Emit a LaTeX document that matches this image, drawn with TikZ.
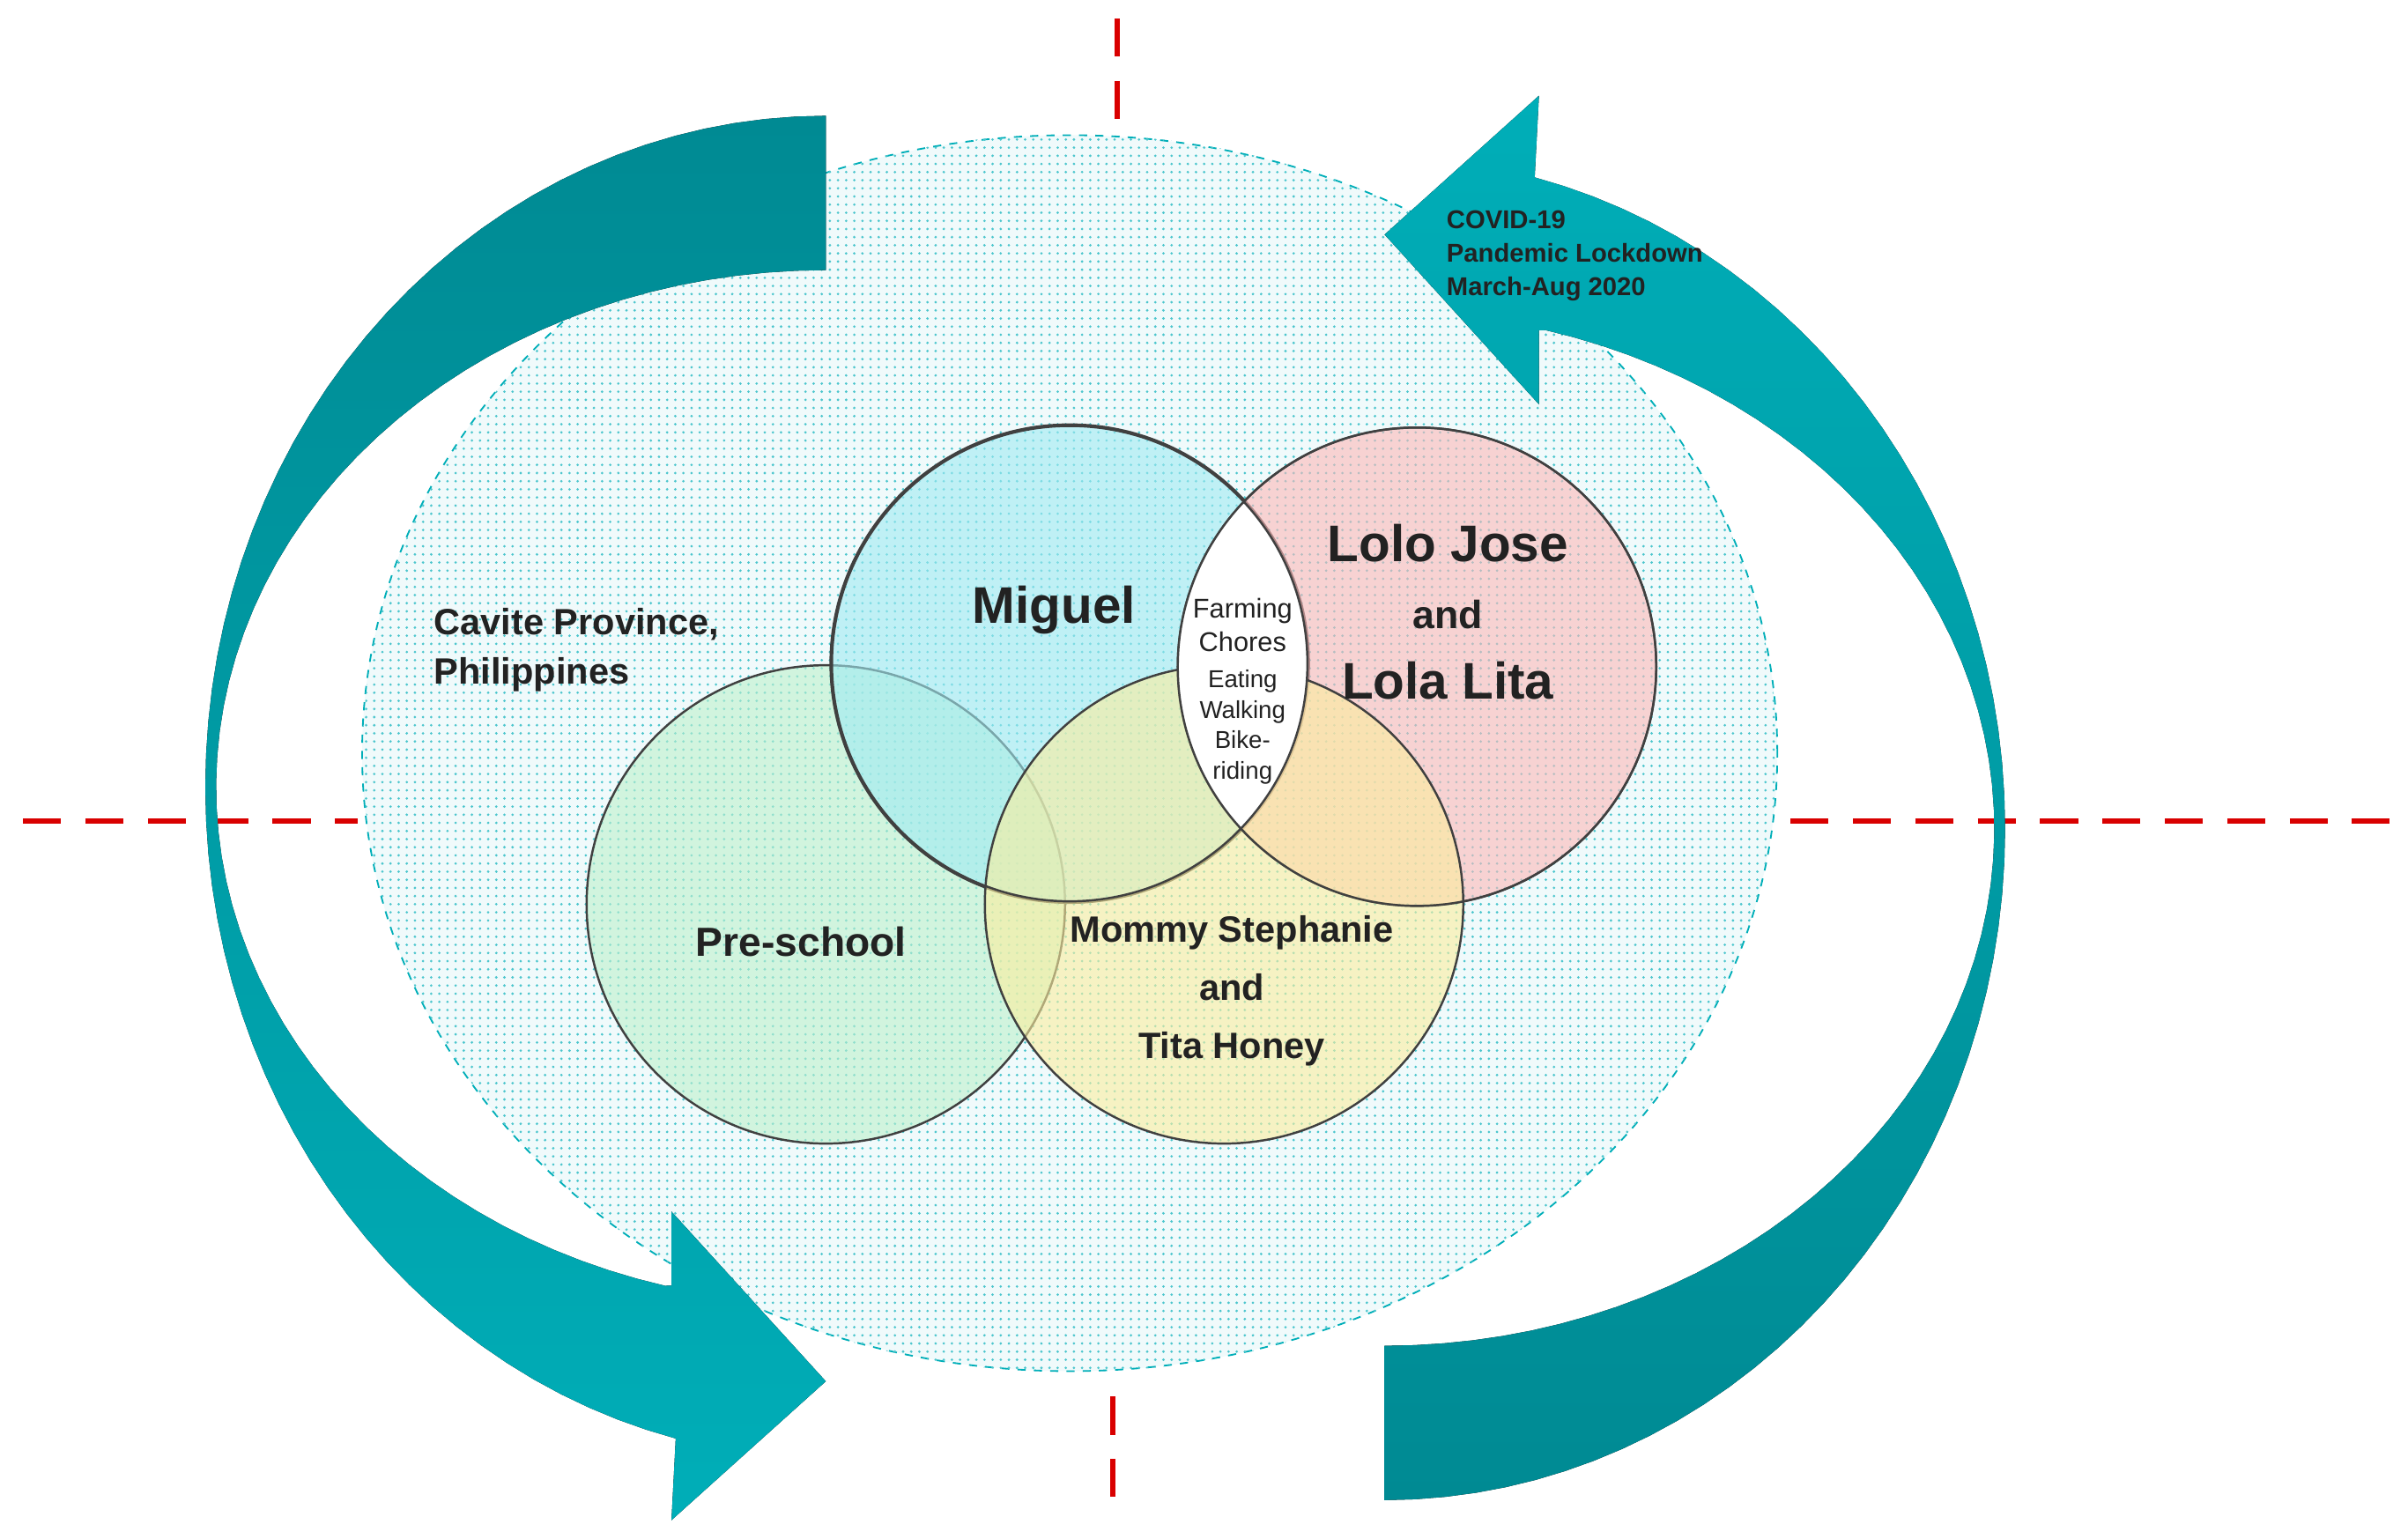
\documentclass[tikz,border=0pt]{standalone}
\usepackage{fontspec}
\setmainfont{Liberation Sans}
\usetikzlibrary{patterns,shapes.geometric}
\definecolor{tealdark}{HTML}{008A93}
\definecolor{teallight}{HTML}{00AEB8}
\definecolor{cmig}{HTML}{9FEAF2}
\definecolor{clolo}{HTML}{FCB8B8}
\definecolor{cpre}{HTML}{BDF0CC}
\definecolor{cmom}{HTML}{FBEE9E}
\definecolor{txt}{HTML}{222222}
\tikzset{
  ring/.style={circle,draw=black!75,line width=0.8pt,minimum size=6.2cm,inner sep=0pt,fill opacity=0.6},
  lbl/.style={text=txt,font=\bfseries,align=center},
  band/.style={top color=tealdark,bottom color=teallight},
  bandr/.style={top color=teallight,bottom color=tealdark},
  axis/.style={red!85!black,line width=2pt,dash pattern=on 14pt off 9pt}
}
\begin{document}
\begin{tikzpicture}[x=0.02cm,y=-0.02cm]
	\useasboundingbox (0,0) rectangle (1560,997);
	% axes
	\coordinate (hl1) at (15,532);
	\coordinate (hl2) at (232,532);
	\coordinate (hr1) at (1160,532);
	\coordinate (hr2) at (1548,532);
	\coordinate (vt1) at (724,12);
	\coordinate (vt2) at (724,88);
	\coordinate (vb1) at (721,905);
	\coordinate (vb2) at (721,985);
	\draw[axis](hl1)--(hl2);
	\draw[axis](hr1)--(hr2);
	\draw[axis](vt1)--(vt2);
	\draw[axis](vb1)--(vb2);
	% province
	\node[ellipse,draw=teallight,dashed,line width=0.6pt,fill=teallight!6,minimum width=18.34cm,minimum height=16.02cm](prov) at (693,488){};
	\fill[pattern=dots,pattern color=teallight!70] (693,488) ellipse (458 and 401);
	% circles
	\node[ring,fill=cpre](pre) at (535,586){};
	\node[ring,fill=cmig](mig) at (693,430){};
	\node[ring,fill=clolo](lolo) at (918,432){};
	\node[ring,fill=cmom](mom) at (793,586){};
	\begin{scope}
		\clip (693,430) circle (154);
		\fill[white] (918,432) circle (155);
	\end{scope}
	\draw[black!75,line width=0.8pt] (693,430) circle (154) (918,432) circle (155);
	% arrows
	\fill[band] plot[domain=90:256,samples=60] ({535+402*cos(\x)},{510-435*sin(\x)})
		-- (435,985) -- (535,895) -- (435,785) -- (435,833)
		-- plot[domain=254.7:90,samples=60] ({535+395*cos(\x)},{510-335*sin(\x)}) -- cycle;
	\begin{scope}[rotate around={180:(716,523.5)}]
		\fill[bandr] plot[domain=90:256,samples=60] ({535+402*cos(\x)},{510-435*sin(\x)})
			-- (435,985) -- (535,895) -- (435,785) -- (435,833)
			-- plot[domain=254.7:90,samples=60] ({535+395*cos(\x)},{510-335*sin(\x)}) -- cycle;
	\end{scope}
	% labels
	\node[lbl,font=\bfseries\fontsize{9.5}{12.5}\selectfont,align=left,anchor=north west](covid) at (931,130){COVID-19\\Pandemic Lockdown\\March-Aug 2020};
	\node[lbl,font=\bfseries\fontsize{13.5}{18}\selectfont,align=left,anchor=west](cavite) at (275,421){Cavite Province,\\Philippines};
	\node[lbl,font=\bfseries\fontsize{19}{23}\selectfont](miguel) at (683,395){Miguel};
	\node[lbl,font=\bfseries\fontsize{19}{23}\selectfont](jose) at (938,352){Lolo Jose};
	\node[lbl,font=\bfseries\fontsize{14.5}{18}\selectfont](and1) at (938,398){and};
	\node[lbl,font=\bfseries\fontsize{19}{23}\selectfont](lita) at (938,441){Lola Lita};
	\node[lbl,font=\fontsize{10}{12.5}\selectfont](farm) at (805,405){Farming\\Chores};
	\node[lbl,font=\fontsize{9}{11.2}\selectfont](eat) at (805,471){Eating\\Walking\\Bike-\\riding};
	\node[lbl,font=\bfseries\fontsize{15}{18}\selectfont](school) at (519,610){Pre-school};
	\node[lbl,font=\bfseries\fontsize{13.5}{21.3}\selectfont](mommy) at (798,642){Mommy Stephanie\\and\\Tita Honey};
\end{tikzpicture}
\end{document}
